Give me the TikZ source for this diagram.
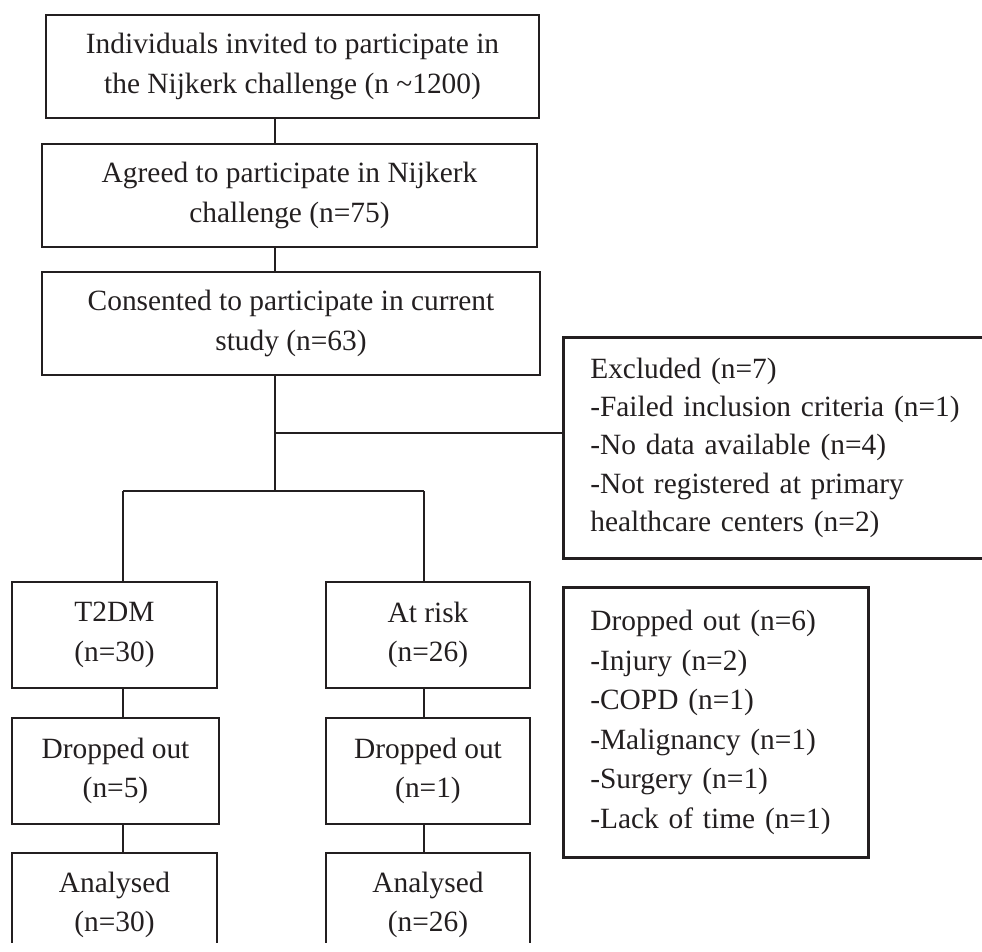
\documentclass[tikz,border=0pt]{standalone}
\usepackage{fontspec}
\setmainfont{Liberation Serif}
\usetikzlibrary{positioning}

\definecolor{customblack}{HTML}{231F20}

\begin{document}
\begin{tikzpicture}[x=1pt,y=-1pt]
  % Estilos para cajas y conectores
  \tikzset{
    box_node/.style={rectangle,draw=customblack,line width=2.6pt,align=center,inner sep=0pt,
      text=customblack,font=\fontsize{29.4}{39.5}\selectfont},
    list_node/.style={rectangle,draw=customblack,line width=2.6pt,align=left,anchor=north west,
      inner xsep=27pt,inner ysep=0pt,text=customblack,font=\fontsize{29.4}{39.5}\selectfont},
    link/.style={draw=customblack,line width=1.7pt}
  }
  \useasboundingbox (0,0) rectangle (982,951);
  \clip (0,0) rectangle (982,942);

  % Cajas principales (columna central)
  \node[box_node,minimum width=493pt,minimum height=103pt] (n1) at (292.5,66.5)
    {Individuals invited to participate in\\the Nijkerk challenge (n \textasciitilde1200)};
  \node[box_node,minimum width=495pt,minimum height=103pt] (n2) at (289.5,195.5)
    {Agreed to participate in Nijkerk\\challenge (n=75)};
  \node[box_node,minimum width=498pt,minimum height=103pt] (n3) at (291,323.5)
    {Consented to participate in current\\study (n=63)};

  \coordinate (c0) at (275,0);
  \coordinate (branch) at (275,433);
  \coordinate (split) at (275,491);
  \coordinate (splitL) at (123,491);
  \coordinate (splitR) at (424,491);

  \foreach \from/\to in {n1/n2,n2/n3}
    \draw[link] (\from.south -| c0) -- (\to.north -| c0);

  % Excluidos
  \node[list_node,text width=400pt,minimum height=221pt,font=\fontsize{29.4}{38.4}\selectfont] (excl) at (562,336)
    {Excluded (n=7)\\-Failed inclusion criteria (n=1)\\-No data available (n=4)\\-Not registered at primary\\healthcare centers (n=2)};

  \draw[link] (n3.south -| c0) -- (split);
  \draw[link] (branch) -- (branch -| excl.west);
  \draw[link] (splitL) -- (splitR);

  % Grupos T2DM y en riesgo
  \node[box_node,minimum width=205pt,minimum height=106pt] (t2dm) at (114.5,635) {T2DM\\(n=30)};
  \node[box_node,minimum width=204pt,minimum height=106pt] (risk) at (428,635) {At risk\\(n=26)};
  \node[box_node,minimum width=207pt,minimum height=106pt] (dropL) at (115.5,771) {Dropped out\\(n=5)};
  \node[box_node,minimum width=204pt,minimum height=106pt] (dropR) at (428,771) {Dropped out\\(n=1)};
  \node[box_node,minimum width=205pt,minimum height=104pt] (anaL) at (114.5,905) {Analysed\\(n=30)};
  \node[box_node,minimum width=204pt,minimum height=104pt] (anaR) at (428,905) {Analysed\\(n=26)};

  \draw[link] (splitL) -- (splitL |- t2dm.north);
  \draw[link] (splitR) -- (splitR |- risk.north);

  \foreach \from/\to/\via in {t2dm/dropL/splitL,dropL/anaL/splitL,risk/dropR/splitR,dropR/anaR/splitR}
    \draw[link] (\from.south -| \via) -- (\to.north -| \via);

  % Abandonos
  \node[list_node,text width=251pt,minimum height=270pt] (drop6) at (562,586)
    {Dropped out (n=6)\\-Injury (n=2)\\-COPD (n=1)\\-Malignancy (n=1)\\-Surgery (n=1)\\-Lack of time (n=1)};
\end{tikzpicture}
\end{document}
